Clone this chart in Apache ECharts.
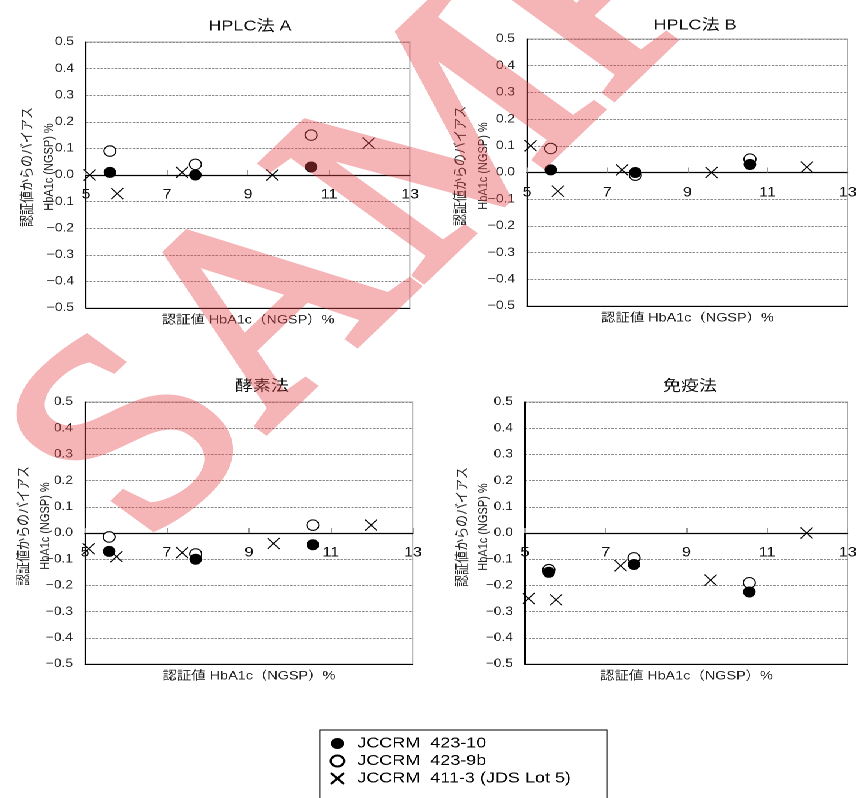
<!DOCTYPE html>
<html>
<head>
<meta charset="utf-8">
<script src="https://cdn.jsdelivr.net/npm/echarts@6/dist/echarts.min.js"></script>
<style>
  html, body { margin: 0; padding: 0; background: #fff; overflow: hidden; }
  /* the figure is laid out narrow and widened 1.2x, like the printed original */
  #chart { width: 717px; height: 798px; transform: scaleX(1.2); transform-origin: 0 0; }
</style>
</head>
<body>
<div id="chart"></div>
<script>
// Certified HbA1c values (NGSP %) of the reference materials
const xLot423 = [5.59, 7.70, 10.56];            // JCCRM 423-10 / 423-9b
const xLot411 = [5.09, 5.77, 7.37, 9.60, 11.98]; // JCCRM 411-3 (JDS Lot 5)

// Bias from certified value, per method
const hplcA_423_10 = [0.01, 0.00, 0.03];
const hplcA_423_9b = [0.09, 0.04, 0.15];
const hplcA_411_3  = [0.00, -0.07, 0.01, 0.00, 0.12];

const hplcB_423_10 = [0.01, 0.00, 0.03];
const hplcB_423_9b = [0.09, -0.01, 0.05];
const hplcB_411_3  = [0.10, -0.07, 0.01, 0.00, 0.02];

const enzyme_423_10 = [-0.07, -0.10, -0.045];
const enzyme_423_9b = [-0.015, -0.08, 0.03];
const enzyme_411_3  = [-0.06, -0.09, -0.075, -0.04, 0.03];

const immuno_423_10 = [-0.15, -0.12, -0.225];
const immuno_423_9b = [-0.14, -0.095, -0.19];
const immuno_411_3  = [-0.25, -0.255, -0.125, -0.18, 0.00];

const panelTitles = ['HPLC法 A', 'HPLC法 B', '酵素法', '免疫法'];
const seriesNames = ['JCCRM  423-10', 'JCCRM  423-9b', 'JCCRM  411-3 (JDS Lot 5)'];
const xTitle = '認証値 HbA1c（NGSP）%';
const yTitle1 = '認証値からのバイアス';
const yTitle2 = 'HbA1c (NGSP) %';
const watermark = 'SAMPLE';

const panelValues = [
  [hplcA_423_10, hplcA_423_9b, hplcA_411_3],
  [hplcB_423_10, hplcB_423_9b, hplcB_411_3],
  [enzyme_423_10, enzyme_423_9b, enzyme_411_3],
  [immuno_423_10, immuno_423_9b, immuno_411_3]
];

const FONT = '"Liberation Sans", "Noto Sans CJK JP", sans-serif';

// plot-area boxes for the four panels (before the 1.2x widening)
const grids = [
  { left: 71.7,  top: 42,  width: 270,   height: 266 },
  { left: 439.2, top: 39,  width: 271.7, height: 267 },
  { left: 70.8,  top: 402, width: 273.3, height: 262 },
  { left: 437.5, top: 402, width: 273.3, height: 262 }
];
const titlePos = [[203.3, 14], [574.2, 13], [213.3, 374], [570, 374]];
// vertical y-axis titles: [x of first line, x of second line, y centre]
const yTitlePos = [[23.3, 41, 167], [384.2, 403.2, 166], [20.3, 37.9, 526], [385.6, 403.2, 527]];

const crossPath = 'path://M0,0L10,10M10,0L0,10';

function fmtY(v) {
  if (Math.abs(v) < 1e-9) return '0.0';
  return v.toFixed(1).replace('-', '\u2212');
}

function verticalText(text, x, y, size) {
  return {
    type: 'text', x: x, y: y, rotation: Math.PI / 2, silent: true, z: 10,
    style: {
      text: text, font: size + 'px ' + FONT, fill: '#222',
      textAlign: 'center', verticalAlign: 'middle', textVerticalAlign: 'middle'
    }
  };
}

const graphics = [];
yTitlePos.forEach(p => {
  graphics.push(verticalText(yTitle1, p[0], p[2], 12));
  graphics.push(verticalText(yTitle2, p[1], p[2], 11));
});
// translucent diagonal stamp, on its own layer
graphics.push({
  type: 'text',
  zlevel: 1,
  x: 68,
  y: 499,
  rotation: 49 * Math.PI / 180,
  silent: true,
  style: {
    text: watermark,
    font: '270px "Liberation Serif", serif',
    fill: 'rgb(230,70,77)',
    stroke: 'rgb(230,70,77)',
    lineWidth: 8,
    lineJoin: 'round',
    textAlign: 'left',
    verticalAlign: 'middle'
  }
});

const option = {
  animation: false,
  backgroundColor: '#fff',
  title: panelTitles.map((t, i) => ({
    text: t,
    left: titlePos[i][0],
    top: titlePos[i][1],
    textAlign: 'center',
    textStyle: { fontFamily: FONT, fontSize: 15, fontWeight: 'normal', color: '#111' }
  })),
  grid: grids.map(g => Object.assign({ show: true, borderColor: '#a8a8a8', borderWidth: 1 }, g)),
  xAxis: [],
  yAxis: [],
  series: [],
  legend: {
    orient: 'vertical',
    left: 266.7,
    top: 730,
    height: 140,
    padding: [6, 30, 24, 8],
    itemWidth: 23,
    itemHeight: 11,
    itemGap: 2.5,
    borderColor: '#000',
    borderWidth: 1,
    selectedMode: false,
    textStyle: { fontFamily: FONT, fontSize: 15, color: '#000', lineHeight: 15 },
    data: [
      { name: seriesNames[0], icon: 'circle' },
      { name: seriesNames[1], icon: 'circle' },
      { name: seriesNames[2], icon: crossPath }
    ]
  },
  graphic: graphics
};

grids.forEach((g, i) => {
  // axis line across y = 0 with small inner ticks
  option.xAxis.push({
    gridIndex: i, type: 'value', min: 5, max: 13, interval: 2, position: 'bottom',
    axisLine: { show: true, onZero: true, lineStyle: { color: '#000', width: 1.3 } },
    axisTick: { show: true, inside: true, length: 5, lineStyle: { color: '#999' } },
    axisLabel: { show: false },
    splitLine: { show: false }
  });
  // frame line at the bottom of the plot; its labels sit just under y = 0
  option.xAxis.push({
    gridIndex: i, type: 'value', min: 5, max: 13, interval: 2, position: 'bottom',
    axisLine: { show: true, onZero: false, lineStyle: { color: '#000', width: 1 } },
    axisTick: { show: false },
    axisLabel: {
      fontFamily: FONT, fontSize: 13.5, color: '#111',
      margin: Math.round(-g.height / 2 + 13)
    },
    splitLine: { show: false },
    name: xTitle, nameLocation: 'middle', nameGap: 6,
    nameTextStyle: { fontFamily: FONT, fontSize: 12, color: '#222', verticalAlign: 'top' }
  });
  option.yAxis.push({
    gridIndex: i, type: 'value', min: -0.5, max: 0.5, interval: 0.1,
    axisLine: { show: true, onZero: false, lineStyle: { color: '#000', width: 1 } },
    axisTick: { show: false },
    axisLabel: { fontFamily: FONT, fontSize: 11.5, color: '#222', margin: 10, formatter: fmtY },
    splitLine: { show: true, lineStyle: { color: '#8a8a8a', type: [2, 1], width: 1 } }
  });

  const vals = panelValues[i];
  // open circles first so filled circles sit on top where they overlap
  option.series.push({
    name: seriesNames[1], type: 'scatter', xAxisIndex: 2 * i, yAxisIndex: i,
    symbol: 'circle', symbolSize: [10, 10.5], z: 3,
    itemStyle: { color: '#fff', borderColor: '#000', borderWidth: 1, opacity: 1 },
    emphasis: { disabled: true },
    data: xLot423.map((x, k) => [x, vals[1][k]])
  });
  option.series.push({
    name: seriesNames[0], type: 'scatter', xAxisIndex: 2 * i, yAxisIndex: i,
    symbol: 'circle', symbolSize: [10.5, 11], z: 4,
    itemStyle: { color: '#000', borderColor: '#000', borderWidth: 0, opacity: 1 },
    emphasis: { disabled: true },
    data: xLot423.map((x, k) => [x, vals[0][k]])
  });
  option.series.push({
    name: seriesNames[2], type: 'scatter', xAxisIndex: 2 * i, yAxisIndex: i,
    symbol: crossPath, symbolSize: [10, 11], z: 5,
    itemStyle: { color: 'rgba(0,0,0,0)', borderColor: '#000', borderWidth: 1, opacity: 1 },
    emphasis: { disabled: true },
    data: xLot411.map((x, k) => [x, vals[2][k]])
  });
});

const chart = echarts.init(document.getElementById('chart'), null, { renderer: 'canvas', devicePixelRatio: 2 });
chart.setOption(option);

// the stamp layer is drawn opaque and made translucent as a whole,
// so the thickening stroke does not double up with the fill
document.querySelectorAll('#chart canvas').forEach(c => {
  if (c.getAttribute('data-zr-dom-id') === 'zr_1') c.style.opacity = '0.4';
});
</script>
</body>
</html>
